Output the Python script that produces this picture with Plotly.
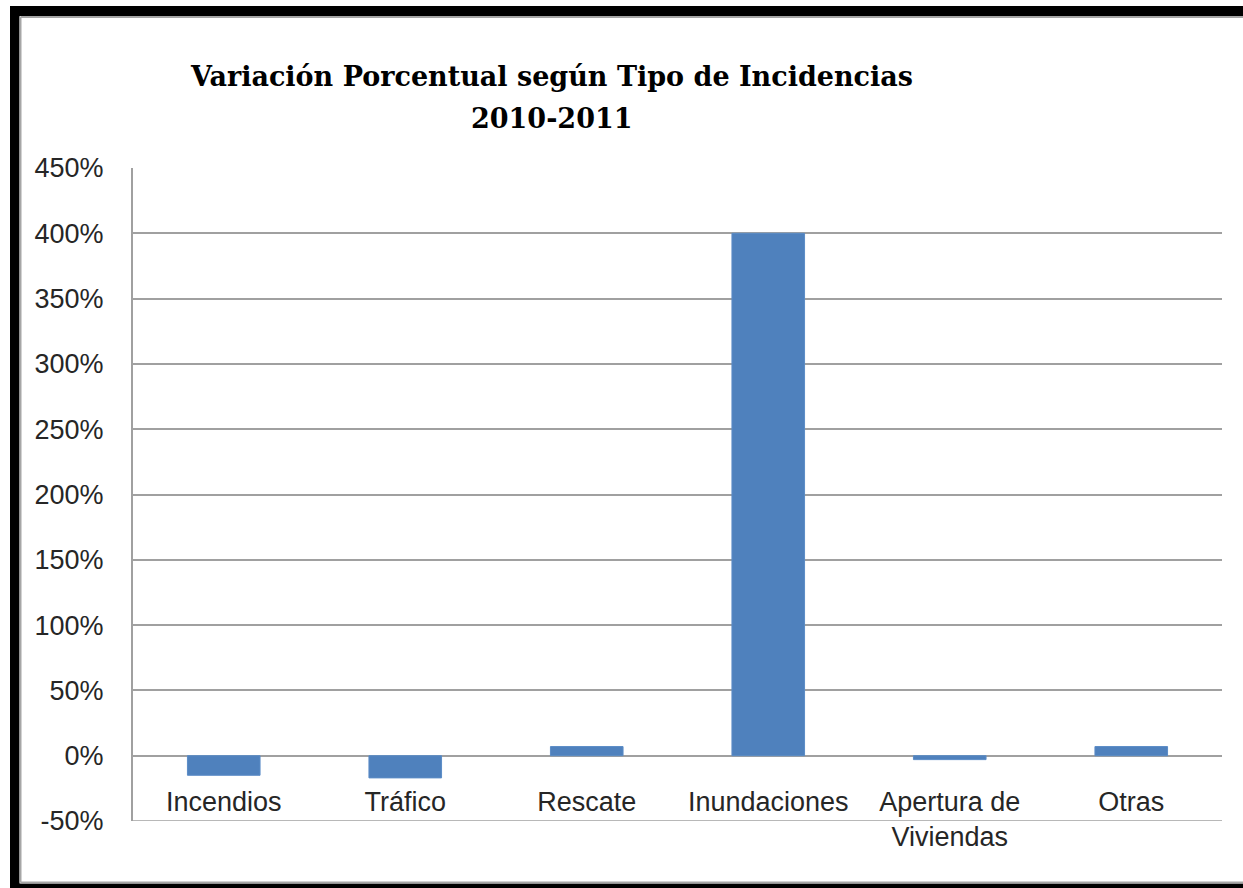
import plotly.graph_objects as go

categories = ["Incendios", "Tráfico", "Rescate", "Inundaciones", "Apertura de<br>Viviendas", "Otras"]
values = [-0.15, -0.17, 0.07, 4.00, -0.03, 0.07]
y_ticks = [-0.5, 0, 0.5, 1.0, 1.5, 2.0, 2.5, 3.0, 3.5, 4.0, 4.5]
y_ticklabels = ["-50%", "0%", "50%", "100%", "150%", "200%", "250%", "300%", "350%", "400%", "450%"]
title_line1 = "Variación Porcentual según Tipo de Incidencias"
title_line2 = "2010-2011"

W, H = 1243, 888
L, R, T, B = 133, 1222, 168, 821
ymin, ymax = -0.5, 4.5

def px(x):
    return (x - L) / (R - L)

def py(y):
    return (B - y) / (B - T)

tick_font = dict(family="Liberation Sans, sans-serif", size=27, color="#262626")

fig = go.Figure()
fig.add_trace(go.Bar(
    x=categories, y=values,
    marker=dict(color="#4F81BD", line=dict(color="#5B8CC6", width=1)),
    width=0.4,
))

zero_pos = (0 - ymin) / (ymax - ymin)

shapes = []
black = "#000000"
shapes.append(dict(type="rect", xref="paper", yref="paper", x0=px(10), x1=px(W + 5), y0=py(16), y1=py(6),
                   fillcolor=black, line=dict(width=0), layer="above"))
shapes.append(dict(type="rect", xref="paper", yref="paper", x0=px(10), x1=px(19.5), y0=py(H + 5), y1=py(6),
                   fillcolor=black, line=dict(width=0), layer="above"))
shapes.append(dict(type="rect", xref="paper", yref="paper", x0=px(10), x1=px(W + 5), y0=py(H + 5), y1=py(883.5),
                   fillcolor=black, line=dict(width=0), layer="above"))
gray = "#a6a6a6"
shapes.append(dict(type="line", xref="paper", yref="paper", x0=px(20.5), x1=px(W + 5), y0=py(17), y1=py(17),
                   line=dict(color=gray, width=2), layer="above"))
shapes.append(dict(type="line", xref="paper", yref="paper", x0=px(20.5), x1=px(20.5), y0=py(17), y1=py(882.5),
                   line=dict(color=gray, width=2), layer="above"))
shapes.append(dict(type="line", xref="paper", yref="paper", x0=px(20.5), x1=px(W + 5), y0=py(882.5), y1=py(882.5),
                   line=dict(color=gray, width=2), layer="above"))
# bottom gridline of plot area (-50%)
shapes.append(dict(type="line", xref="paper", yref="y", x0=0, x1=1, y0=ymin, y1=ymin,
                   line=dict(color="#a0a0a0", width=1.5), layer="below"))

title_font = dict(family="DejaVu Serif", size=27, color="#000000", weight="bold")

fig.update_layout(
    width=W, height=H,
    margin=dict(l=L, r=W - R, t=T, b=H - B, pad=0),
    paper_bgcolor="white", plot_bgcolor="white",
    showlegend=False,
    bargap=0.6,
    title=dict(text=title_line1, x=552 / W, xref="container", xanchor="center",
               y=1 - 77 / H, yref="container", yanchor="middle", font=title_font),
    annotations=[dict(text=title_line2, xref="paper", yref="paper", x=px(552), y=py(118),
                      xanchor="center", yanchor="middle", showarrow=False, font=title_font)],
    font=tick_font,
    shapes=shapes,
    xaxis=dict(
        anchor="free", position=zero_pos,
        showline=False, showgrid=False, zeroline=False,
        ticks="outside", ticklen=22, tickcolor="rgba(0,0,0,0)",
        tickfont=tick_font,
        fixedrange=True,
    ),
    yaxis=dict(
        range=[ymin, ymax],
        tickvals=y_ticks, ticktext=y_ticklabels,
        showline=True, linecolor="#a0a0a0", linewidth=2,
        showgrid=True, gridcolor="#a0a0a0", gridwidth=1.5,
        zeroline=True, zerolinecolor="#a0a0a0", zerolinewidth=2,
        ticks="outside", ticklen=22, tickcolor="rgba(0,0,0,0)",
        tickfont=tick_font,
        fixedrange=True,
    ),
)

fig.write_html("out.html", config={"displayModeBar": False},
               post_script="document.body.style.margin='0';document.body.style.overflow='hidden';")
